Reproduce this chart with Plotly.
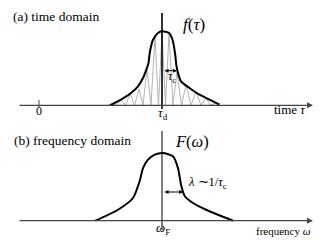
import plotly.graph_objects as go

# ---- data ----
# (a) time domain: envelope f(tau); tau axis with 0 at the "0" tick
tau_d = 123
env_tau = [71, 82, 92, 99, 104, 107.5, 109.5, 110.7, 114, 119, 123, 130, 133.5, 136, 137.5, 139, 142, 150.5, 160.5, 170.5, 180.5]
env_amp = [0, 0.076, 0.166, 0.257, 0.369, 0.49, 0.572, 0.707, 0.886, 0.977, 1.0, 0.977, 0.886, 0.707, 0.53, 0.436, 0.324, 0.234, 0.143, 0.076, 0.008]

# interference fringes (gray): peaks and troughs
fringe_peak_tau = [73, 82, 91, 100, 108, 116, 123, 130, 138, 147, 157, 167, 176]
fringe_peak_amp = [0.02, 0.076, 0.15, 0.22, 0.5, 0.93, 1.0, 0.97, 0.45, 0.28, 0.18, 0.1, 0.03]
fringe_trough_tau = [77.5, 86.5, 95.5, 104, 112, 119.5, 126.5, 134, 142.5, 152, 162, 171.5]
fringe_start_tau, fringe_end_tau = 69, 180

# (b) frequency domain: spectrum F(omega)
omega_F = 123
spec_omega = [56.3, 79, 94, 100.7, 104, 109, 115.7, 124, 134, 139, 142.3, 145.7, 154, 167, 194]
spec_amp = [0, 0.162, 0.335, 0.586, 0.776, 0.901, 0.975, 1.0, 0.951, 0.776, 0.513, 0.365, 0.261, 0.162, 0]

# ---- build fringe polyline ----
fx = [fringe_start_tau]
fy = [0]
for i, (px, py) in enumerate(zip(fringe_peak_tau, fringe_peak_amp)):
    fx.append(px); fy.append(py)
    if i < len(fringe_trough_tau):
        fx.append(fringe_trough_tau[i]); fy.append(0)
fx.append(fringe_end_tau); fy.append(0)

SERIF = "Liberation Serif"
W, H = 330, 240

fig = go.Figure()
fig.add_trace(go.Scatter(x=fx, y=fy, mode="lines", line=dict(color="#b4b4b4", width=1),
                         xaxis="x", yaxis="y", hoverinfo="skip"))
fig.add_trace(go.Scatter(x=env_tau, y=env_amp, mode="lines", line=dict(color="black", width=2, shape="spline", smoothing=0.6),
                         xaxis="x", yaxis="y", hoverinfo="skip"))
fig.add_trace(go.Scatter(x=spec_omega, y=spec_amp, mode="lines", line=dict(color="black", width=2, shape="spline", smoothing=0.6),
                         xaxis="x2", yaxis="y2", hoverinfo="skip"))

ax_common = dict(visible=False, range=[-31, 299], fixedrange=True)
fig.update_layout(
    width=W, height=H, autosize=False,
    font=dict(family=SERIF, size=12, color="black"),
    margin=dict(l=0, r=0, t=0, b=0),
    paper_bgcolor="white", plot_bgcolor="white",
    showlegend=False,
    xaxis=dict(domain=[0, 1], anchor="y", **ax_common),
    yaxis=dict(domain=[0.5, 1], anchor="x", visible=False, range=[-0.307, 1.315], fixedrange=True),
    xaxis2=dict(domain=[0, 1], anchor="y2", **ax_common),
    yaxis2=dict(domain=[0, 0.5], anchor="x2", visible=False, range=[-0.403, 1.369], fixedrange=True),
)

shapes = [
    # tick at 0
    dict(type="line", xref="x", yref="y", x0=0, x1=0, y0=0.072, y1=-0.03, line=dict(color="#444", width=1)),
    # vertical line at tau_d
    dict(type="line", xref="x", yref="y", x0=tau_d, x1=tau_d, y0=1.247, y1=-0.05, line=dict(color="black", width=1.6)),
    # vertical line at omega_F
    dict(type="line", xref="x2", yref="y2", x0=omega_F, x1=omega_F, y0=1.325, y1=-0.137, line=dict(color="black", width=1)),
]
fig.update_layout(shapes=shapes)

ann = []
# axis arrows
ann.append(dict(x=274, y=0, ax=-21, ay=0, xref="x", yref="y", axref="x", ayref="y", text="",
                showarrow=True, arrowhead=2, arrowsize=1, arrowwidth=1.2, arrowcolor="#444"))
ann.append(dict(x=274, y=0, ax=-21, ay=0, xref="x2", yref="y2", axref="x2", ayref="y2", text="",
                showarrow=True, arrowhead=2, arrowsize=1, arrowwidth=1.2, arrowcolor="#444"))
# width arrows
ann.append(dict(x=138, y=0.468, ax=124, ay=0.468, xref="x", yref="y", axref="x", ayref="y", text="",
                showarrow=True, arrowhead=2, startarrowhead=2, arrowside="end+start", arrowsize=0.8, startarrowsize=0.8,
                arrowwidth=1, arrowcolor="black"))
ann.append(dict(x=144, y=0.424, ax=124, ay=0.424, xref="x2", yref="y2", axref="x2", ayref="y2", text="",
                showarrow=True, arrowhead=2, startarrowhead=2, arrowside="end+start", arrowsize=0.8, startarrowsize=0.8,
                arrowwidth=1, arrowcolor="black"))


def txt(s, x, y, size, xanchor="center"):
    ann.append(dict(text=s, x=x / W, y=1 - y / H, xref="paper", yref="paper", showarrow=False,
                    xanchor=xanchor, yanchor="middle", borderpad=0,
                    font=dict(family=SERIF, size=size, color="black")))


txt("(a) time domain", 4, 9, 13.5, "left")
txt("<i>f</i>(<i>τ</i>)", 186, 17, 17)
txt("<i>τ</i><sub>c</sub>", 164, 69, 12)
txt("0", 31, 103, 12)
txt("<i>τ</i><sub>d</sub>", 155, 105, 13)
txt("time <i>τ</i>", 299, 101, 13, "right")
txt("(b) frequency domain", 5, 132, 13.5, "left")
txt("<i>F</i>(<i>ω</i>)", 184, 133, 16.5)
txt("<i>λ</i> ∼1/<i>τ</i><sub>c</sub>", 179, 175, 12.5, "left")
txt("frequency <i>ω</i>", 304, 223, 11, "right")
txt("<i>ω</i><sub>F</sub>", 155, 220, 13)

fig.update_layout(annotations=ann)
fig.write_html("out.html")
